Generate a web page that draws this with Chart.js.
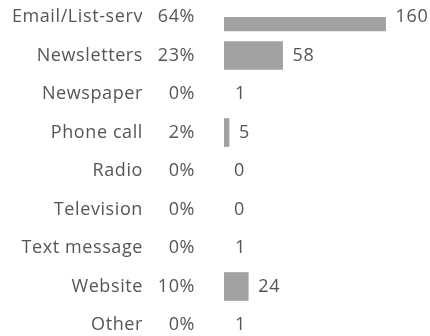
<!DOCTYPE html>
<html>
<head>
<meta charset="utf-8">
<script src="https://cdn.jsdelivr.net/npm/chart.js@4"></script>
<style>
  html, body { margin: 0; padding: 0; background: #fff; }
  #wrap { width: 430px; height: 336px; position: relative; }
</style>
</head>
<body>
<div id="wrap"><canvas id="chart"></canvas></div>
<script>
// ------------------------------------------------------------
// Data
// ------------------------------------------------------------
const categories = ["Email/List-serv", "Newsletters", "Newspaper", "Phone call", "Radio",
  "Television", "Text message", "Website", "Other"];
const counts = [160, 58, 1, 5, 0, 0, 1, 24, 1];
const percents = ["64%", "23%", "0%", "2%", "0%", "0%", "0%", "10%", "0%"];

const FONT = "18px 'Open Sans', sans-serif";
const TEXT = "#555555";

// draws the category / percent columns and the count labels
const labelPlugin = {
  id: "rowLabels",
  afterDatasetsDraw(chart) {
    const ctx = chart.ctx;
    const x = chart.scales.x;
    const y = chart.scales.y;
    ctx.save();
    ctx.font = FONT;
    ctx.letterSpacing = "0.6px";
    ctx.fillStyle = TEXT;
    ctx.textBaseline = "middle";
    categories.forEach((c, i) => {
      const py = y.getPixelForValue(i);
      ctx.textAlign = "right";
      ctx.fillText(c, 143, py);
      ctx.fillText(percents[i], 195, py);
      ctx.textAlign = "left";
      ctx.fillText(String(counts[i]), x.getPixelForValue(counts[i]) + 10, py);
    });
    ctx.restore();
  },
};

new Chart(document.getElementById("chart"), {
  type: "bar",
  data: {
    labels: categories,
    datasets: [{
      data: counts,
      // single responses are too thin to show up in the original
      backgroundColor: (c) => (c.raw > 1 ? "#a2a2a2" : "rgba(0,0,0,0)"),
      barThickness: 28,
      borderWidth: 0,
    }],
  },
  options: {
    indexAxis: "y",
    responsive: true,
    maintainAspectRatio: false,
    animation: false,
    layout: { padding: { left: 224, right: 4, top: 17, bottom: 11 } },
    scales: {
      x: { display: false, min: 0, max: 200 },
      y: { display: false, offset: false },
    },
    plugins: { legend: { display: false }, tooltip: { enabled: false } },
  },
  plugins: [labelPlugin],
});
</script>
</body>
</html>
